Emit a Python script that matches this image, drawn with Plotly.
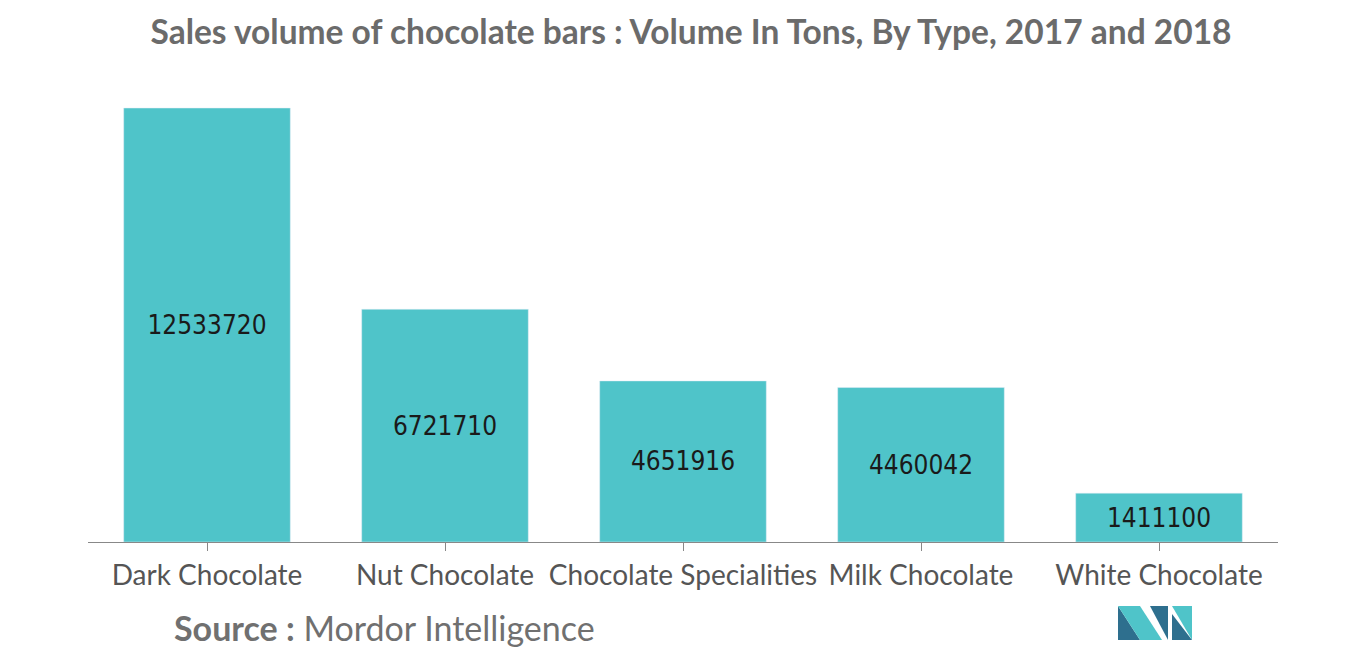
import plotly.graph_objects as go

categories = ["Dark Chocolate", "Nut Chocolate", "Chocolate Specialities", "Milk Chocolate", "White Chocolate"]
volumes = [12533720, 6721710, 4651916, 4460042, 1411100]

W, H = 1366, 655
OFF = 8  # page offset in the screenshot
L, R = 88 - OFF, 1278 - OFF
top, bottom = 72, 542 - OFF
ymax = volumes[0] * (bottom - top) / (bottom - (108 - OFF))

fig = go.Figure(go.Bar(
    x=categories, y=volumes, marker_color="#4fc4c9",
    text=[str(v) for v in volumes], textposition="inside", insidetextanchor="middle",
    textfont=dict(size=26, color="#1a1a1a", family="DejaVu Sans Condensed, Roboto"),
))

fig.update_layout(
    width=W, height=H, plot_bgcolor="white", paper_bgcolor="white",
    margin=dict(l=L, r=W - R, t=top, b=H - bottom),
    bargap=0.3, showlegend=False,
    title=dict(text="<b>Sales volume of chocolate bars : Volume In Tons, By Type, 2017 and 2018</b>",
               x=0.5, y=1 - (32 - OFF) / H, yanchor="middle", xanchor="center",
               font=dict(size=33.5, color="#6b6b6b", family="Lato")),
    xaxis=dict(showline=True, linecolor="#888", linewidth=1, ticks="outside", ticklen=8,
               tickcolor="#888", tickfont=dict(size=28, color="#555", family="Lato")),
    yaxis=dict(visible=False, range=[0, ymax]),
)

def px(x, y):
    x -= OFF
    y -= OFF
    return (x - L) / (R - L), (bottom - y) / (bottom - top)

sx, sy = px(172, 627)
fig.add_annotation(text="<b>Source :</b> Mordor Intelligence", xref="paper", yref="paper",
                   x=sx, y=sy, xanchor="left", yanchor="middle", showarrow=False,
                   font=dict(size=34, color="#707070", family="Lato"))

# logo
logo = [
    ([(1118, 640), (1118, 606), (1140, 640)], "#2e6f8e"),
    ([(1118, 606), (1140, 606), (1162, 640), (1140, 640)], "#4fc4c9"),
    ([(1150, 606), (1168, 606), (1168, 640)], "#2e6f8e"),
    ([(1172, 606), (1192, 606), (1192, 640)], "#4fc4c9"),
    ([(1172, 614), (1192, 640), (1172, 640)], "#2e6f8e"),
]
for pts, col in logo:
    path = "M " + " L ".join(f"{px(a, b)[0]},{px(a, b)[1]}" for a, b in pts) + " Z"
    fig.add_shape(type="path", path=path, xref="paper", yref="paper", fillcolor=col, line_width=0)

fig.write_html("out.html")
